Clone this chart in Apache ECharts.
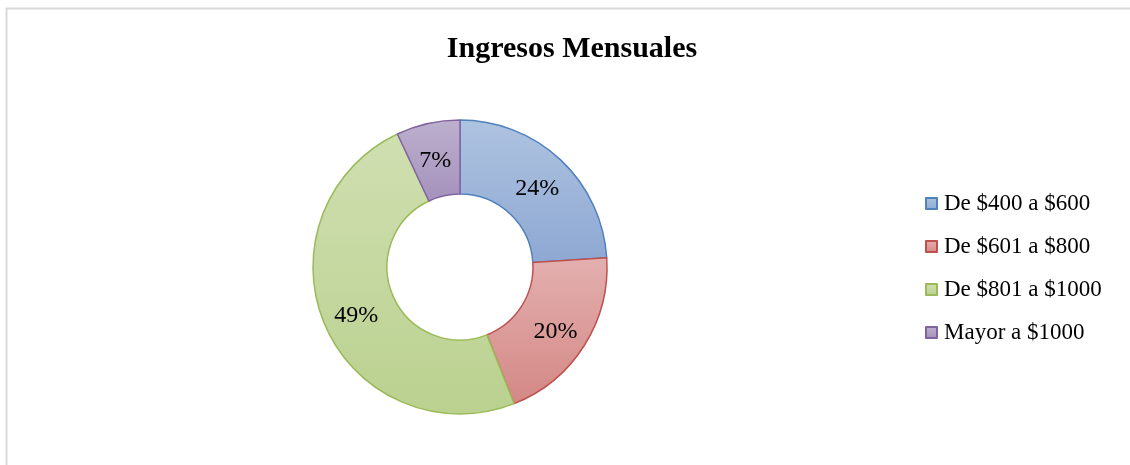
<!DOCTYPE html>
<html>
<head>
<meta charset="utf-8">
<title>Ingresos Mensuales</title>
<script src="https://cdn.jsdelivr.net/npm/echarts@6/dist/echarts.min.js"></script>
<style>
  html, body { margin: 0; padding: 0; background: #fff; }
  #chart { width: 1130px; height: 465px; }
</style>
</head>
<body>
<div id="chart"></div>
<script>
// chart data
const categories = ['De $400 a $600', 'De $601 a $800', 'De $801 a $1000', 'Mayor a $1000']
const values = [24, 20, 49, 7]

// office-like fills (top, bottom) and outlines
const fillTop = ['#aec3e0', '#e3b0af', '#d0dfb1', '#bdb0cd']
const fillBottom = ['#8ea8d3', '#d48885', '#bad18f', '#a591bd']
const outline = ['#4f81bd', '#c0504d', '#9bbb59', '#8064a2']

const font = "'Liberation Serif', 'Times New Roman', serif"

let chart = echarts.init(document.getElementById('chart'))

let data = categories.map((name, i) => ({
  name: name,
  value: values[i],
  itemStyle: {
    color: new echarts.graphic.LinearGradient(0, 0, 0, 1, [
      { offset: 0, color: fillTop[i] },
      { offset: 1, color: fillBottom[i] }
    ]),
    borderColor: outline[i],
    borderWidth: 1.5
  }
}))

let option = {
  backgroundColor: '#ffffff',
  animation: false,
  title: {
    text: 'Ingresos Mensuales',
    left: 567,
    textAlign: 'center',
    top: 29,
    textStyle: {
      fontFamily: font,
      fontSize: 30,
      fontWeight: 'bold',
      color: '#000'
    }
  },
  legend: {
    orient: 'vertical',
    left: 925,
    top: 192,
    padding: 0,
    itemWidth: 11,
    itemHeight: 11,
    itemGap: 20,
    icon: 'rect',
    textStyle: {
      fontFamily: font,
      fontSize: 23,
      color: '#000',
      padding: [0, 0, 0, 2]
    },
    data: categories
  },
  graphic: [
    {
      type: 'line',
      shape: { x1: 6, y1: 8.5, x2: 1130, y2: 8.5 },
      style: { stroke: '#d9d9d9', lineWidth: 2 }
    },
    {
      type: 'line',
      shape: { x1: 6.5, y1: 8, x2: 6.5, y2: 465 },
      style: { stroke: '#d9d9d9', lineWidth: 2 }
    }
  ],
  series: [
    {
      type: 'pie',
      center: [460, 267],
      radius: [73, 147],
      startAngle: 90,
      clockwise: true,
      avoidLabelOverlap: false,
      label: {
        show: true,
        position: 'inside',
        formatter: '{p|{d}%}',
        rich: {
          p: {
            fontFamily: font,
            fontSize: 24,
            color: '#000',
            padding: [8, 0, 0, 0]
          }
        }
      },
      labelLine: { show: false },
      emphasis: { disabled: true },
      data: data
    }
  ]
}

chart.setOption(option)
</script>
</body>
</html>
